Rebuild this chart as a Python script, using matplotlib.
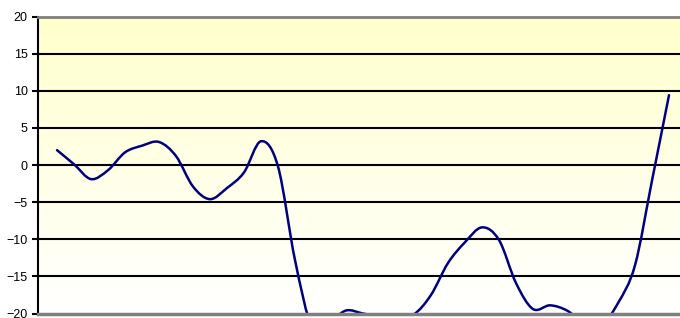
import numpy as np
import matplotlib
matplotlib.use("Agg")
import matplotlib.pyplot as plt
from matplotlib.path import Path
from matplotlib.patches import PathPatch
from matplotlib.colors import LinearSegmentedColormap

plt.rcParams["font.family"] = ["Liberation Sans", "DejaVu Sans"]

# ── Data ───────────────────────────────────────────────────────────────────
values = [
    2.0, 0.1, -1.9, -0.7, 1.7, 2.6, 3.1, 1.2, -2.9, -4.6,
    -3.1, -1.0, 3.2, -0.2, -12.8, -21.8, -21.2, -19.6, -20.0, -20.4,
    -20.5, -20.1, -17.5, -13.2, -10.4, -8.4, -10.1, -15.9, -19.4, -18.9,
    -19.6, -21.3, -21.6, -18.6, -13.5, -2.1, 9.4,
]
periods = list(range(len(values)))
y_ticks = [-20, -15, -10, -5, 0, 5, 10, 15, 20]


def smooth_path(xs, ys):
    """Excel-like smoothed line: cubic Bezier through every point."""
    pts = np.column_stack([xs, ys]).astype(float)
    ext = np.vstack([pts[0], pts, pts[-1]])
    verts = [pts[0]]
    codes = [Path.MOVETO]
    for i in range(len(pts) - 1):
        p0, p1, p2, p3 = ext[i], ext[i + 1], ext[i + 2], ext[i + 3]
        verts += [p1 + (p2 - p0) / 6, p2 - (p3 - p1) / 6, p2]
        codes += [Path.CURVE4] * 3
    return Path(verts, codes)


W, H = 680, 318
fig = plt.figure(figsize=(W / 100, H / 100), dpi=100)
fig.patch.set_facecolor("white")
ax = fig.add_axes([38 / W, 4.5 / H, 642 / W, 297 / H])

xmin = -19 / 17
xmax = xmin + 642 / 17
ax.set_xlim(xmin, xmax)
ax.set_ylim(-20, 20)

# background gradient: white at the bottom, pale yellow at the top
bg = LinearSegmentedColormap.from_list("bg", ["#FFFFFF", "#FFFFCC"])
ax.imshow(np.linspace(0, 1, 256).reshape(-1, 1), extent=[xmin, xmax, -20, 20],
          origin="lower", cmap=bg, aspect="auto", zorder=0)

for yv in y_ticks[1:-1]:
    ax.axhline(yv, color="black", lw=1.5, zorder=1)

ax.add_patch(PathPatch(smooth_path(periods, values), facecolor="none",
                       edgecolor="#000080", lw=1.8, zorder=2,
                       capstyle="round", joinstyle="round"))

ax.set_yticks(y_ticks)
ax.set_xticks([])
ax.tick_params(axis="y", direction="out", length=4, width=1.5,
               colors="black", labelsize=9, pad=3.5)

for side in ("top", "bottom", "left", "right"):
    ax.spines[side].set_zorder(3)
ax.spines["top"].set_color("#808080")
ax.spines["top"].set_linewidth(2)
ax.spines["bottom"].set_color("#808080")
ax.spines["bottom"].set_linewidth(2.5)
ax.spines["left"].set_color("black")
ax.spines["left"].set_linewidth(1.5)
ax.spines["right"].set_visible(False)

fig.savefig("out.png", dpi=100)
